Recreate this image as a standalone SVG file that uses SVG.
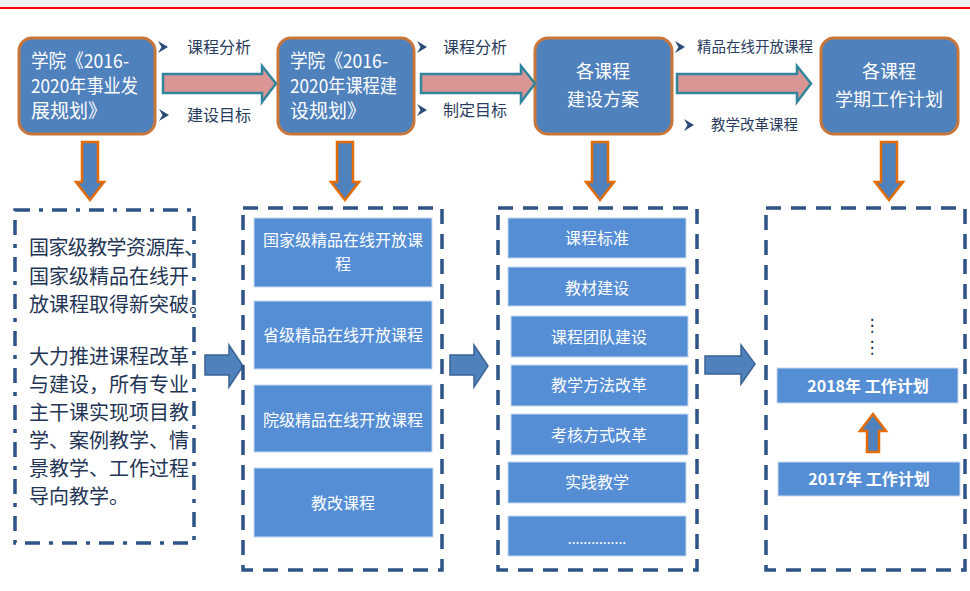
<svg xmlns="http://www.w3.org/2000/svg" width="970" height="591" viewBox="0 0 970 591">
<style>
.top{fill:#4f81bd;stroke:#c8763a;stroke-width:3}
.wt{fill:#fff;font-family:"Noto Sans CJK SC","Noto Sans",sans-serif}
.lbl{fill:#2a3c5e;font-family:"Noto Sans CJK SC","Noto Sans",sans-serif;font-size:16px}
.lbl.s{font-size:14.5px}
.chev{fill:#2b4a78}
.pink{fill:#d99694;stroke:#31859c;stroke-width:2.5}
.down{fill:#4f81bd;stroke:#e36c09;stroke-width:2.5}
.right{fill:#4f81bd;stroke:#3b6394;stroke-width:1.5}
.dash{fill:none;stroke:#2e5386;stroke-width:3.5;stroke-dasharray:15 10}
.dashdot{fill:none;stroke:#2e5386;stroke-width:3.5;stroke-dasharray:15 9 4 9}
.in{fill:#558ed5;stroke:#c6d9f0;stroke-width:1}
.body{fill:#1f3555;font-family:"Noto Sans CJK SC","Noto Sans",sans-serif;font-size:20px}
</style>
<rect x="0" y="0" width="970" height="8" fill="#f0f0f0"/>
<rect x="0" y="7" width="970" height="2" fill="#ff0000"/>

<g id="node-plan1">
<rect class="top" x="19" y="38" width="136" height="96" rx="13"/>
<text class="wt" font-size="19" x="31" y="68" textLength="98" lengthAdjust="spacingAndGlyphs">学院《2016-</text>
<text class="wt" font-size="19" x="31" y="93" textLength="107" lengthAdjust="spacingAndGlyphs">2020年事业发</text>
<text class="wt" font-size="19" x="31" y="118">展规划》</text>
</g>
<g id="node-plan2">
<rect class="top" x="278" y="38" width="136" height="96" rx="13"/>
<text class="wt" font-size="19" x="290" y="68" textLength="98" lengthAdjust="spacingAndGlyphs">学院《2016-</text>
<text class="wt" font-size="19" x="290" y="93" textLength="107" lengthAdjust="spacingAndGlyphs">2020年课程建</text>
<text class="wt" font-size="19" x="290" y="118">设规划》</text>
</g>
<g id="node-scheme">
<rect class="top" x="535" y="38" width="137" height="96" rx="13"/>
<text class="wt" font-size="18" x="603" y="78" text-anchor="middle">各课程</text>
<text class="wt" font-size="18" x="603" y="106" text-anchor="middle">建设方案</text>
</g>
<g id="node-term">
<rect class="top" x="821" y="38" width="137" height="96" rx="13"/>
<text class="wt" font-size="18" x="889" y="78" text-anchor="middle">各课程</text>
<text class="wt" font-size="18" x="889" y="106" text-anchor="middle">学期工作计划</text>
</g>

<g id="connectors">
<polygon class="pink" points="163,74 262,74 262,66 276,83.5 262,102 262,93 163,93"/>
<polygon class="pink" points="421,74 521,74 521,66 535,83.5 521,102 521,93 421,93"/>
<polygon class="pink" points="677,74 797,74 797,66 811,83.5 797,102 797,93 677,93"/>
<polygon class="down" points="82,142 98,142 98,182 104,182 90,200 76,182 82,182"/>
<polygon class="down" points="337,142 353,142 353,182 359,182 345,200 331,182 337,182"/>
<polygon class="down" points="592,142 608,142 608,182 614,182 600,200 586,182 592,182"/>
<polygon class="down" points="881,142 897,142 897,182 903,182 889,200 875,182 881,182"/>
<polygon class="right" points="205,355 229,355 229,345 243,366 229,387 229,375 205,375"/>
<polygon class="right" points="450,355 474,355 474,345 488,366 474,387 474,375 450,375"/>
<polygon class="right" points="705,356 741,356 741,345 755,364 741,384 741,374 705,374"/>
<polygon class="down" points="867,452 879,452 879,431 886,431 873,414 860,431 867,431"/>
</g>

<g id="labels">
<polygon class="chev" points="158,41 168,47 158,53 161.5,47"/>
<text class="lbl" x="187" y="53">课程分析</text>
<polygon class="chev" points="159,109 169,115 159,121 162.5,115"/>
<text class="lbl" x="187" y="121">建设目标</text>
<polygon class="chev" points="417,41 427,47 417,53 420.5,47"/>
<text class="lbl" x="443" y="53">课程分析</text>
<polygon class="chev" points="417,104 427,110 417,116 420.5,110"/>
<text class="lbl" x="443" y="116">制定目标</text>
<polygon class="chev" points="675,41 685,47 675,53 678.5,47"/>
<text class="lbl s" x="697" y="52">精品在线开放课程</text>
<polygon class="chev" points="684,119 694,125 684,131 687.5,125"/>
<text class="lbl s" x="711" y="130">教学改革课程</text>
</g>

<g id="box-goals">
<rect class="dashdot" x="15" y="210" width="179" height="333"/>
<text class="body" x="29" y="255" letter-spacing="-0.6">国家级教学资源库、</text>
<text class="body" x="29" y="284">国家级精品在线开</text>
<text class="body" x="29" y="312">放课程取得新突破。</text>
<text class="body" x="29" y="364">大力推进课程改革</text>
<text class="body" x="29" y="392">与建设，所有专业</text>
<text class="body" x="29" y="420">主干课实现项目教</text>
<text class="body" x="29" y="448">学、案例教学、情</text>
<text class="body" x="29" y="476">景教学、工作过程</text>
<text class="body" x="29" y="504">导向教学。</text>
</g>

<g id="box-levels">
<rect class="dash" x="243" y="208" width="199" height="362"/>
<rect class="in" x="254" y="218" width="178" height="69"/>
<text class="wt" font-size="16" x="343" y="246" text-anchor="middle">国家级精品在线开放课</text>
<text class="wt" font-size="16" x="343" y="270" text-anchor="middle">程</text>
<rect class="in" x="254" y="301" width="178" height="68"/>
<text class="wt" font-size="16" x="343" y="341" text-anchor="middle">省级精品在线开放课程</text>
<rect class="in" x="254" y="385" width="178" height="67"/>
<text class="wt" font-size="16" x="343" y="426" text-anchor="middle">院级精品在线开放课程</text>
<rect class="in" x="254" y="468" width="179" height="69"/>
<text class="wt" font-size="16" x="343" y="509" text-anchor="middle">教改课程</text>
</g>

<g id="box-items">
<rect class="dash" x="498" y="208" width="199" height="362"/>
<rect class="in" x="508" y="218" width="178" height="40"/>
<text class="wt" font-size="16" x="597" y="244" text-anchor="middle">课程标准</text>
<rect class="in" x="508" y="267" width="178" height="39"/>
<text class="wt" font-size="16" x="597" y="294" text-anchor="middle">教材建设</text>
<rect class="in" x="511" y="316" width="177" height="41"/>
<text class="wt" font-size="16" x="599" y="343" text-anchor="middle">课程团队建设</text>
<rect class="in" x="511" y="365" width="177" height="41"/>
<text class="wt" font-size="16" x="599" y="391" text-anchor="middle">教学方法改革</text>
<rect class="in" x="511" y="414" width="177" height="41"/>
<text class="wt" font-size="16" x="599" y="441" text-anchor="middle">考核方式改革</text>
<rect class="in" x="508" y="462" width="178" height="41"/>
<text class="wt" font-size="16" x="597" y="488" text-anchor="middle">实践教学</text>
<rect class="in" x="508" y="516" width="178" height="40"/>
<text class="wt" font-size="14" x="597" y="544" text-anchor="middle">...............</text>
</g>

<g id="box-plans">
<rect class="dash" x="766" y="208" width="199" height="362"/>
<text x="872" y="331" font-family="DejaVu Sans,sans-serif" font-size="17" fill="#1f2d40" text-anchor="middle">⋮</text>
<text x="872" y="353" font-family="DejaVu Sans,sans-serif" font-size="17" fill="#1f2d40" text-anchor="middle">⋮</text>
<rect class="in" x="777" y="368" width="181" height="35"/>
<text class="wt" font-size="16" font-weight="bold" x="868" y="392" text-anchor="middle">2018年 工作计划</text>
<rect class="in" x="778" y="462" width="182" height="34"/>
<text class="wt" font-size="16" font-weight="bold" x="869" y="485" text-anchor="middle">2017年 工作计划</text>
</g>
</svg>
